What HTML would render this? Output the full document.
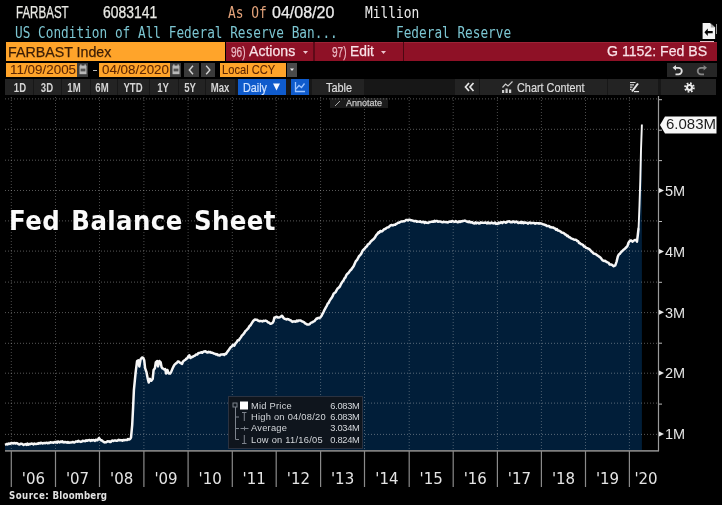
<!DOCTYPE html>
<html><head><meta charset="utf-8">
<style>
*{margin:0;padding:0;box-sizing:border-box}
html,body{width:722px;height:505px;background:#000;overflow:hidden}
body{position:relative;font-family:"Liberation Sans",Arial,sans-serif}
.a{position:absolute;white-space:nowrap}
.mono{font-family:"DejaVu Sans Mono",monospace;font-size:15px;line-height:15px;transform-origin:0 0;transform:scaleX(0.858)}
.nar{font-family:"Liberation Sans",sans-serif;transform-origin:0 0;line-height:1;-webkit-text-stroke:0.25px currentColor}
.chart{position:absolute;left:0;top:0}
.box{position:absolute}
.lg{position:absolute;left:251px;font-size:9.3px;letter-spacing:0.25px;line-height:11px;color:#d3d6da;white-space:nowrap}
.lgv{position:absolute;left:300px;width:59.5px;text-align:right;font-size:9.3px;letter-spacing:-0.3px;line-height:11px;color:#d3d6da}
.btn{position:absolute;top:80.5px;width:40px;height:14px;text-align:center;font-size:12px;line-height:14px;color:#d4d4d4;font-family:"Liberation Sans",sans-serif;font-weight:bold;transform:scaleX(0.8)}
.dt{top:63.2px;font-size:13px;color:#5e2704;transform:scaleX(1.03);-webkit-text-stroke:0.1px currentColor}
.bt{top:81px;font-size:13px;-webkit-text-stroke:0.2px currentColor;transform:scaleX(0.9)}
</style></head><body>
<!-- header row 0 -->
<div class="a nar" id="farbast" style="left:16px;top:4.7px;font-size:16px;color:#e9e9e4;transform:scaleX(0.722)">FARBAST</div>
<div class="a nar" id="num" style="left:103px;top:4.5px;font-size:16px;color:#e9e9e4;transform:scaleX(0.87)">6083141</div>
<div class="a mono" style="left:227.5px;top:5.8px;color:#e2a27a">As Of</div>
<div class="a nar" style="left:272px;top:4.5px;font-size:16px;color:#ececec">04/08/20</div>
<div class="a mono" style="left:365px;top:5.8px;color:#ececec">Million</div>
<!-- row 1 -->
<div class="a mono" style="left:15px;top:26px;color:#7cc6d2;transform:scaleX(0.851)">US Condition of All Federal Reserve Ban...</div>
<div class="a mono" style="left:396px;top:26px;color:#7cc6d2;transform:scaleX(0.85)">Federal Reserve</div>
<svg class="box" style="left:700px;top:22px" width="18" height="20" viewBox="0 0 18 20">
 <path d="M2.6,1.1 H10.3 L15.1,5.1 V16.9 H2.6 Z" fill="#f4f4f4"/>
 <path d="M10.8,1.8 V5.4 H14.6" fill="#a8a8a8"/>
 <path d="M10.3,1.1 L15.1,5.1" stroke="#222" stroke-width="0.8"/>
 <path d="M4.4,10.2 L7.8,6.4 V9.1 H12.7 V11.3 H7.8 V14 Z" fill="#050505"/>
 <line x1="16.5" y1="2" x2="16.5" y2="12" stroke="#9a9a9a"/>
</svg>
<div class="box" style="left:699.5px;top:40.5px;width:14px;height:1px;background:#e6c3cb"></div>
<!-- row 2 -->
<div class="box" style="left:6px;top:42px;width:219px;height:19px;background:#ffa42a"></div>
<div class="a nar" style="left:8px;top:43.5px;font-size:15px;color:#3b1d06;transform:scaleX(0.949)">FARBAST Index</div>
<div class="box" style="left:226px;top:41.5px;width:491px;height:19.6px;background:#8e1126"></div>
<div class="box" style="left:226px;top:42px;width:491px;height:1px;background:#9c2436"></div>
<div class="box" style="left:313px;top:41.5px;width:2px;height:19.6px;background:#5e0a18"></div>
<div class="box" style="left:402.5px;top:41.5px;width:1.6px;height:19.6px;background:#4c0812"></div>
<div class="a nar" style="left:231px;top:44.5px;font-size:14px;color:#eab8c3;transform:scaleX(0.72)">96)</div>
<div class="a nar" style="left:249px;top:42.8px;font-size:15px;color:#f8e2e7;transform:scaleX(0.939)">Actions</div>
<svg class="box" style="left:303px;top:51px" width="5" height="3"><path d="M0,0 H5 L2.5,3 Z" fill="#ecc6ce"/></svg>
<div class="a nar" style="left:332px;top:44.5px;font-size:14px;color:#eab8c3;transform:scaleX(0.72)">97)</div>
<div class="a nar" style="left:349.5px;top:42.8px;font-size:15px;color:#f8e2e7;transform:scaleX(0.923)">Edit</div>
<svg class="box" style="left:381px;top:51px" width="5" height="3"><path d="M0,0 H5 L2.5,3 Z" fill="#ecc6ce"/></svg>
<div class="a nar" id="gfed" style="left:607px;top:42.6px;font-size:15px;color:#f8e2e7;transform:scaleX(0.94)">G 1152: Fed BS</div>
<!-- row 3 -->
<div class="box" style="left:6px;top:63px;width:71px;height:14px;background:#ffa42a"></div>
<div class="a nar dt" style="left:9.5px">11/09/2005</div>
<svg class="box" style="left:77px;top:63px" width="11" height="14" viewBox="0 0 11 14"><rect width="11" height="14" fill="#3d3d3d"/><rect x="2.5" y="2.6" width="7" height="8.6" fill="#b9b9b9"/><rect x="3.6" y="5.6" width="4.8" height="2.8" fill="#555"/><rect x="3.2" y="1.4" width="1.3" height="2" fill="#b9b9b9"/><rect x="7.5" y="1.4" width="1.3" height="2" fill="#b9b9b9"/></svg>
<div class="box" style="left:93px;top:69.5px;width:3.5px;height:1.3px;background:#b5b5b5"></div>
<div class="box" style="left:99px;top:63px;width:71px;height:14px;background:#ffa42a"></div>
<div class="a nar dt" style="left:102px">04/08/2020</div>
<svg class="box" style="left:170px;top:63px" width="11" height="14" viewBox="0 0 11 14"><rect width="11" height="14" fill="#3d3d3d"/><rect x="2.5" y="2.6" width="7" height="8.6" fill="#b9b9b9"/><rect x="3.6" y="5.6" width="4.8" height="2.8" fill="#555"/><rect x="3.2" y="1.4" width="1.3" height="2" fill="#b9b9b9"/><rect x="7.5" y="1.4" width="1.3" height="2" fill="#b9b9b9"/></svg>
<svg class="box" style="left:184px;top:63px" width="15" height="14" viewBox="0 0 15 14"><rect width="15" height="14" fill="#3a3a3a"/><path d="M9,2.8 L5.3,7 L9,11.2" fill="none" stroke="#d4d4d4" stroke-width="1.4"/></svg>
<svg class="box" style="left:201px;top:63px" width="14" height="14" viewBox="0 0 14 14"><rect width="14" height="14" fill="#3a3a3a"/><path d="M5.2,2.8 L8.9,7 L5.2,11.2" fill="none" stroke="#d4d4d4" stroke-width="1.4"/></svg>
<div class="box" style="left:220px;top:63px;width:66px;height:14px;background:#ffa42a"></div>
<div class="a nar dt" style="left:221.5px;top:62.8px;transform:scaleX(0.856)">Local CCY</div>
<svg class="box" style="left:287px;top:63px" width="10" height="14" viewBox="0 0 10 14"><rect width="10" height="14" fill="#4a4a4a"/><path d="M3,5.6 H7 L5,8 Z" fill="#f0f0f0"/></svg>
<svg class="box" style="left:667px;top:63px" width="50" height="14" viewBox="0 0 50 14"><rect width="50" height="14" fill="#262626"/>
<path d="M8,4.8 H11.5 A3.3,3.3 0 0 1 11.5,11.4 H8.5" fill="none" stroke="#e2e2e2" stroke-width="1.8"/><path d="M5.6,4.8 L9,2 V7.6 Z" fill="#e2e2e2"/>
<path d="M37.5,4.8 H34 A3.3,3.3 0 0 0 34,11.4 H37" fill="none" stroke="#858585" stroke-width="1.8"/><path d="M40,4.8 L36.6,2 V7.6 Z" fill="#858585"/></svg>
<!-- row 4 buttons -->
<div class="box" style="left:5px;top:79px;width:711px;height:16px;background:#171717"></div>
<div class="box" style="left:5px;top:79px;width:28px;height:16px;background:#232323"></div>
<div class="box" style="left:34px;top:79px;width:27px;height:16px;background:#232323"></div>
<div class="box" style="left:62px;top:79px;width:28px;height:16px;background:#232323"></div>
<div class="box" style="left:91px;top:79px;width:26px;height:16px;background:#232323"></div>
<div class="box" style="left:118px;top:79px;width:31px;height:16px;background:#232323"></div>
<div class="box" style="left:150px;top:79px;width:28px;height:16px;background:#232323"></div>
<div class="box" style="left:179px;top:79px;width:26px;height:16px;background:#232323"></div>
<div class="box" style="left:206px;top:79px;width:29px;height:16px;background:#232323"></div>
<div class="box" style="left:238px;top:79px;width:48px;height:16px;background:#0f5bcc"></div>
<div class="box" style="left:291px;top:79px;width:18px;height:16px;background:#0f5bcc"></div>
<div class="box" style="left:312px;top:79px;width:52px;height:16px;background:#232323"></div>
<div class="box" style="left:455px;top:79px;width:24px;height:16px;background:#232323"></div>
<div class="box" style="left:480px;top:79px;width:127px;height:16px;background:#232323"></div>
<div class="box" style="left:608px;top:79px;width:50px;height:16px;background:#232323"></div>
<div class="box" style="left:661px;top:79px;width:55px;height:16px;background:#232323"></div>
<div class="btn" style="left:-0.5px">1D</div>
<div class="btn" style="left:26.5px">3D</div>
<div class="btn" style="left:54.0px">1M</div>
<div class="btn" style="left:81.5px">6M</div>
<div class="btn" style="left:113.0px">YTD</div>
<div class="btn" style="left:143.3px">1Y</div>
<div class="btn" style="left:170.2px">5Y</div>
<div class="btn" style="left:200.2px">Max</div>
<div class="a nar bt" style="left:243px;color:#cfe2ff;transform:scaleX(0.83)">Daily</div>
<svg class="box" style="left:273px;top:83px" width="7" height="8" viewBox="0 0 7 8"><path d="M0,0.5 H7 L3.5,7.5 Z" fill="#f4f8ff"/></svg>
<svg class="box" style="left:291px;top:79px" width="18" height="16" viewBox="0 0 18 16"><path d="M4.5,3 V12.5 H14" fill="none" stroke="#9cc4ff" stroke-width="1.3"/><path d="M5,10 L8,6.5 L10.5,8.5 L13.5,4.5" fill="none" stroke="#9cc4ff" stroke-width="1.3"/></svg>
<div class="a nar bt" style="left:326px;color:#dcdcdc;transform:scaleX(0.84)">Table</div>
<svg class="box" style="left:464px;top:82px" width="11" height="10" viewBox="0 0 11 10"><path d="M5,1 L1.5,5 L5,9 M9.5,1 L6,5 L9.5,9" fill="none" stroke="#e4e4e4" stroke-width="1.7"/></svg>
<svg class="box" style="left:501px;top:80px" width="13" height="14" viewBox="0 0 13 14"><path d="M1.5,7.5 L4.5,4 L7,6 L11.5,1.5" fill="none" stroke="#cfcfcf" stroke-width="1.2"/><rect x="1" y="10" width="2.2" height="3" fill="#cfcfcf"/><rect x="4.5" y="8.5" width="2.2" height="4.5" fill="#cfcfcf"/><rect x="8" y="9.5" width="2.2" height="3.5" fill="#cfcfcf"/></svg>
<div class="a nar bt" style="left:517px;color:#dcdcdc;transform:scaleX(0.835)">Chart Content</div>
<svg class="box" style="left:629px;top:81px" width="11" height="12" viewBox="0 0 11 12"><path d="M1,1.5 H6.5 M1,3.8 H5 M1,6.1 H3.5 M1,8.4 H2.5" stroke="#d8d8d8" stroke-width="1.2"/><path d="M3,10.5 L9,2.5" stroke="#e8e8e8" stroke-width="2"/><path d="M5,10.6 H10" stroke="#e8e8e8" stroke-width="1.2"/></svg>
<svg class="box" style="left:684px;top:81.5px" width="11" height="11" viewBox="0 0 11 11"><circle cx="5.5" cy="5.5" r="4.3" fill="none" stroke="#ececec" stroke-width="2" stroke-dasharray="1.7 1.68"/><circle cx="5.5" cy="5.5" r="3.5" fill="#ececec"/><circle cx="5.5" cy="5.5" r="1.4" fill="#232323"/></svg>
<!-- annotate -->
<div class="box" style="left:330px;top:98px;width:58px;height:10px;background:#1b1b1b"></div>
<div class="a nar" style="left:346px;top:98px;font-size:9.5px;color:#c8c8c8;transform:scaleX(0.95)">Annotate</div>
<svg class="box" style="left:334px;top:99px" width="8" height="8" viewBox="0 0 8 8"><path d="M1,7 L6,2" stroke="#aaa" stroke-width="1"/></svg>
<svg class="chart" width="722" height="505" viewBox="0 0 722 505">
<path d="M5.0,444.8 L6.0,444.4 L6.9,443.9 L7.8,444.4 L8.8,443.5 L9.8,443.9 L10.7,443.5 L11.6,442.9 L12.6,443.3 L13.5,443.4 L14.4,442.9 L15.4,443.5 L16.3,443.1 L17.2,443.3 L18.1,443.9 L19.1,444.5 L20.0,444.2 L20.9,443.7 L21.8,443.8 L22.7,444.4 L23.6,444.9 L24.5,444.4 L25.5,444.1 L26.4,444.9 L27.3,443.6 L28.2,444.8 L29.1,444.0 L30.0,444.3 L30.9,443.7 L31.8,443.6 L32.7,443.8 L33.6,444.5 L34.5,443.5 L35.5,444.0 L36.4,444.0 L37.3,443.5 L38.2,443.7 L39.1,443.0 L40.0,443.5 L40.9,442.8 L41.7,442.9 L42.5,443.5 L43.4,443.1 L44.2,442.9 L45.1,443.2 L46.0,442.9 L46.8,442.7 L47.6,443.3 L48.5,442.8 L49.5,443.0 L50.5,442.2 L51.5,442.6 L52.4,442.4 L53.4,442.7 L54.4,442.1 L55.3,442.4 L56.2,441.8 L57.0,442.7 L57.9,441.5 L58.8,441.9 L59.7,442.4 L60.6,441.6 L61.5,442.0 L62.4,441.4 L63.2,442.3 L64.1,442.4 L65.0,442.0 L66.0,442.2 L67.0,442.7 L67.9,442.0 L68.9,442.7 L69.9,442.5 L70.9,442.5 L71.8,442.3 L72.8,442.0 L73.7,442.4 L74.7,442.4 L75.6,441.6 L76.6,441.5 L77.5,441.7 L78.3,440.8 L79.2,441.6 L80.1,441.5 L80.9,441.9 L81.8,441.6 L82.7,440.8 L83.5,440.9 L84.4,441.0 L85.3,441.2 L86.1,440.2 L87.0,440.8 L87.9,440.3 L88.7,440.2 L89.6,440.0 L90.5,441.0 L91.3,440.0 L92.2,440.5 L93.1,440.1 L94.0,440.2 L94.8,440.9 L95.7,439.7 L96.6,440.2 L97.5,440.2 L99.0,438.1 L100.5,440.0 L101.9,440.5 L102.8,441.3 L103.8,442.0 L104.7,442.4 L105.6,442.3 L106.4,442.2 L107.3,441.3 L108.2,441.4 L109.1,441.3 L110.0,441.9 L110.9,441.9 L111.7,440.7 L112.6,440.6 L113.5,441.0 L114.4,440.5 L115.3,440.4 L116.2,440.7 L117.1,440.8 L118.0,440.2 L118.8,439.8 L119.7,440.3 L120.6,440.1 L121.5,440.3 L122.4,440.7 L123.3,440.0 L124.2,440.2 L125.2,439.9 L126.2,440.0 L127.1,440.0 L128.1,439.0 L129.0,439.6 L130.0,439.2 L131.0,437.6 L132.2,425.0 L133.1,407.5 L133.9,390.0 L134.8,380.9 L135.7,371.8 L137.1,361.0 L138.4,360.2 L139.3,366.4 L140.6,359.3 L142.0,357.5 L143.3,358.0 L144.2,360.2 L145.1,368.2 L146.4,371.8 L147.8,378.9 L148.7,382.5 L150.0,378.9 L151.3,380.7 L152.7,378.9 L153.6,370.0 L154.9,368.2 L155.8,362.4 L157.1,361.0 L158.0,366.4 L159.4,361.0 L160.7,362.4 L161.6,367.3 L162.5,368.4 L163.4,368.7 L164.3,369.4 L165.2,369.1 L166.1,373.6 L167.4,370.0 L168.8,373.6 L170.1,373.6 L171.2,371.8 L172.3,369.1 L173.4,366.7 L174.6,364.6 L175.7,363.6 L176.8,362.9 L177.7,361.6 L178.6,361.5 L179.5,362.4 L180.4,362.9 L182.1,363.9 L182.9,361.7 L183.8,360.8 L185.5,359.7 L186.4,358.4 L187.3,358.4 L188.3,356.4 L189.3,355.2 L190.4,358.0 L191.4,357.0 L192.5,357.0 L193.7,356.1 L194.9,355.6 L196.1,354.4 L197.3,354.5 L198.2,353.2 L199.2,352.9 L200.1,352.8 L201.1,352.2 L202.2,352.8 L203.2,351.9 L204.2,351.4 L205.4,351.2 L206.7,352.3 L207.6,352.6 L208.4,351.8 L209.3,352.3 L210.3,352.0 L211.2,352.8 L212.1,352.7 L213.0,353.1 L213.9,353.5 L214.9,353.8 L216.0,354.5 L216.9,354.1 L217.9,355.3 L218.8,354.9 L219.7,355.5 L220.7,354.6 L221.6,354.5 L222.5,354.6 L223.4,354.2 L224.3,354.9 L225.2,353.8 L226.1,353.9 L227.3,351.9 L228.5,350.4 L229.6,348.8 L230.7,347.2 L231.7,346.7 L232.8,344.9 L234.3,345.7 L235.5,343.4 L236.7,342.1 L237.8,340.2 L238.8,340.3 L239.9,338.5 L241.0,337.2 L242.0,335.4 L243.1,334.6 L244.1,333.3 L245.2,331.3 L246.2,330.6 L247.3,329.2 L248.3,328.3 L249.4,326.2 L250.5,325.3 L251.5,323.6 L252.6,321.9 L253.8,320.4 L254.9,319.5 L256.0,319.7 L257.0,319.8 L258.1,320.7 L259.2,321.2 L260.2,321.0 L261.3,321.1 L262.4,321.4 L263.4,320.7 L264.5,320.9 L265.6,320.6 L266.8,321.1 L268.0,322.3 L269.2,322.7 L270.4,323.8 L271.6,323.5 L272.6,322.8 L273.6,321.1 L274.4,317.5 L275.4,317.5 L276.3,316.7 L278.0,317.5 L278.8,317.5 L279.8,317.3 L280.9,316.6 L281.9,315.7 L282.8,316.6 L283.6,318.2 L284.5,318.7 L285.5,318.9 L286.4,319.5 L287.3,319.0 L288.1,319.2 L289.0,319.7 L289.9,320.2 L290.8,320.2 L291.6,321.2 L292.4,321.9 L293.3,321.6 L294.2,321.3 L295.1,321.7 L295.9,321.5 L296.8,320.6 L297.7,321.2 L298.6,320.4 L299.5,320.6 L300.4,320.5 L301.4,320.9 L302.3,321.6 L303.2,321.8 L304.2,322.4 L305.1,323.4 L306.2,323.9 L307.4,324.6 L308.5,324.4 L309.6,324.2 L310.6,323.0 L311.5,322.5 L312.5,322.3 L313.4,321.6 L314.4,321.2 L315.5,319.9 L316.4,318.6 L317.3,318.7 L318.2,317.8 L319.2,318.2 L320.3,317.5 L321.4,316.1 L322.4,314.0 L323.4,312.3 L324.5,309.8 L326.0,307.1 L326.9,305.6 L327.8,303.6 L328.6,303.0 L329.5,300.9 L330.4,299.6 L331.5,298.1 L332.5,296.4 L333.6,293.8 L334.6,292.9 L335.6,292.3 L336.5,290.4 L337.4,288.8 L338.9,287.6 L339.9,286.4 L341.0,284.0 L342.5,281.6 L343.5,280.5 L344.4,278.4 L345.4,277.5 L346.3,275.2 L347.2,273.9 L348.7,272.7 L349.9,270.8 L351.1,269.8 L352.3,268.0 L353.6,266.3 L354.8,263.5 L355.9,261.1 L357.1,259.8 L358.3,257.6 L359.2,255.9 L360.1,255.2 L361.0,254.2 L361.9,252.2 L362.8,250.4 L364.3,249.0 L366.0,246.9 L366.9,246.4 L367.8,244.5 L368.7,244.1 L369.6,243.3 L370.5,241.9 L371.4,240.9 L372.4,240.1 L373.5,239.2 L375.0,237.4 L376.2,235.2 L377.4,234.0 L378.4,232.3 L379.3,232.7 L380.3,231.0 L381.2,231.4 L382.1,231.3 L383.3,230.1 L384.5,228.9 L385.5,229.0 L386.5,227.8 L387.5,227.4 L388.5,227.3 L389.4,226.5 L390.4,225.4 L391.6,225.0 L392.8,225.4 L394.0,224.8 L395.2,224.8 L396.1,223.9 L397.0,223.6 L398.0,222.7 L399.0,222.7 L400.0,222.1 L401.1,221.5 L402.3,221.5 L403.5,221.2 L404.7,221.2 L405.9,220.1 L407.1,220.0 L408.0,220.4 L408.9,219.7 L410.0,219.8 L411.2,220.3 L412.1,220.4 L413.1,220.7 L414.1,221.3 L415.0,220.9 L415.9,221.0 L416.8,221.8 L417.6,221.4 L418.5,221.6 L419.4,221.8 L420.2,221.3 L421.1,222.0 L422.0,222.3 L422.9,221.9 L423.8,221.8 L424.6,223.0 L425.5,222.2 L426.4,222.7 L427.3,222.8 L428.2,222.9 L429.1,222.4 L430.0,221.9 L430.9,221.9 L431.8,221.7 L432.7,221.4 L433.6,221.8 L434.5,220.8 L435.4,221.5 L436.2,221.0 L437.1,221.1 L438.0,221.8 L438.9,221.4 L439.8,221.4 L440.7,221.6 L441.6,222.0 L442.5,222.3 L443.4,221.8 L444.3,222.1 L445.2,222.1 L446.1,222.2 L447.0,222.3 L447.9,222.4 L448.8,221.8 L449.6,221.7 L450.5,221.4 L451.4,221.8 L452.3,221.0 L453.2,221.4 L454.0,221.7 L454.9,221.9 L455.7,221.1 L456.6,221.6 L457.4,222.2 L458.3,222.2 L459.1,221.3 L460.0,221.9 L460.9,221.2 L461.9,221.5 L462.9,220.9 L463.8,220.9 L464.8,220.6 L465.7,221.0 L466.6,221.5 L467.5,221.8 L468.4,222.2 L469.2,221.4 L470.1,222.4 L471.0,222.6 L471.9,222.1 L472.8,222.8 L473.7,223.3 L474.6,223.5 L475.5,222.4 L476.4,223.4 L477.2,222.7 L478.1,222.8 L479.0,223.5 L479.9,223.3 L480.8,222.3 L481.7,222.8 L482.6,222.7 L483.5,222.9 L484.4,222.7 L485.3,222.5 L486.2,222.7 L487.1,223.4 L488.0,222.4 L488.9,223.2 L489.8,223.1 L490.7,223.2 L491.6,222.5 L492.5,223.0 L493.4,223.4 L494.3,223.2 L495.1,222.6 L496.0,223.9 L496.9,223.6 L497.8,223.9 L498.7,222.6 L499.6,223.2 L500.5,222.7 L501.4,222.2 L502.3,223.1 L503.2,222.2 L504.1,221.9 L504.9,222.1 L505.8,222.7 L506.7,222.4 L507.6,221.4 L508.5,221.6 L509.4,221.2 L510.3,222.3 L511.2,221.9 L512.1,222.2 L513.0,221.4 L513.8,221.4 L514.7,222.4 L515.6,222.1 L516.5,221.6 L517.4,222.3 L518.3,223.0 L519.2,222.6 L520.1,222.9 L521.0,221.9 L521.8,223.0 L522.7,222.0 L523.6,223.2 L524.5,222.6 L525.4,222.5 L526.3,222.8 L527.2,223.0 L528.1,223.6 L529.0,222.7 L529.9,222.6 L530.8,223.3 L531.6,223.0 L532.5,222.9 L533.4,223.0 L534.3,223.0 L535.2,223.7 L536.1,223.2 L537.1,223.3 L538.0,223.2 L539.0,223.7 L539.9,223.3 L541.0,223.4 L542.2,224.0 L543.3,224.4 L544.2,224.4 L545.0,225.0 L545.9,225.0 L546.8,226.1 L547.8,226.0 L548.9,225.9 L550.0,227.2 L551.0,227.1 L552.0,227.5 L553.0,227.4 L554.1,228.1 L555.1,228.5 L556.0,229.6 L556.9,229.0 L557.7,230.5 L558.6,230.6 L559.6,231.0 L560.7,231.6 L561.7,232.6 L562.7,232.7 L563.6,233.1 L564.5,233.8 L565.3,234.5 L566.2,234.8 L567.1,236.1 L568.0,235.8 L568.8,237.1 L569.7,237.2 L570.7,238.1 L571.8,238.6 L572.8,238.9 L573.8,239.6 L574.7,239.7 L575.5,239.7 L576.4,240.1 L577.3,241.0 L578.2,241.2 L579.0,242.9 L579.9,243.0 L580.8,244.1 L581.8,244.3 L582.9,244.8 L584.0,246.5 L585.0,246.6 L586.1,247.8 L587.2,248.2 L588.3,248.7 L589.3,249.2 L590.2,250.0 L591.2,251.2 L592.2,252.0 L593.3,253.3 L594.4,253.8 L595.5,253.9 L596.6,254.9 L597.9,255.7 L599.1,256.6 L600.4,257.5 L601.6,259.1 L602.7,260.3 L603.9,260.9 L605.0,260.8 L606.2,261.7 L607.4,262.4 L608.5,262.7 L609.7,264.5 L610.8,264.5 L611.8,264.8 L612.7,265.4 L613.7,266.2 L615.3,265.3 L616.6,261.6 L617.8,256.6 L618.8,254.5 L619.9,253.7 L621.1,252.1 L622.4,250.8 L623.6,249.7 L624.9,248.7 L626.1,247.5 L627.4,246.2 L628.6,242.5 L630.3,240.4 L631.3,240.6 L632.4,241.6 L633.6,240.8 L634.9,240.0 L636.0,240.1 L637.0,241.6 L637.8,235.0 L638.6,228.0 L639.5,205.0 L640.3,180.0 L641.0,150.0 L641.9,124.5 L641.9,450 L5,450 Z" fill="#011e39"/>
<g stroke="rgba(210,210,210,0.42)" stroke-width="1" stroke-dasharray="1 2"><line x1="5" x2="658" y1="98.9" y2="98.9"/><line x1="5" x2="658" y1="129.3" y2="129.3"/><line x1="5" x2="658" y1="160.2" y2="160.2"/><line x1="5" x2="658" y1="190.5" y2="190.5"/><line x1="5" x2="658" y1="220.9" y2="220.9"/><line x1="5" x2="658" y1="251.1" y2="251.1"/><line x1="5" x2="658" y1="282.1" y2="282.1"/><line x1="5" x2="658" y1="312.6" y2="312.6"/><line x1="5" x2="658" y1="343.3" y2="343.3"/><line x1="5" x2="658" y1="373.2" y2="373.2"/><line x1="5" x2="658" y1="403.1" y2="403.1"/><line x1="5" x2="658" y1="434.4" y2="434.4"/></g>
<g stroke="rgba(210,210,210,0.36)" stroke-width="1" stroke-dasharray="1 2"><line x1="11.3" x2="11.3" y1="97" y2="450"/><line x1="55.5" x2="55.5" y1="97" y2="450"/><line x1="99.5" x2="99.5" y1="97" y2="450"/><line x1="143.9" x2="143.9" y1="97" y2="450"/><line x1="188.1" x2="188.1" y1="97" y2="450"/><line x1="232.3" x2="232.3" y1="97" y2="450"/><line x1="276.2" x2="276.2" y1="97" y2="450"/><line x1="320.6" x2="320.6" y1="97" y2="450"/><line x1="364.5" x2="364.5" y1="97" y2="450"/><line x1="409.2" x2="409.2" y1="97" y2="450"/><line x1="453.2" x2="453.2" y1="97" y2="450"/><line x1="497.4" x2="497.4" y1="97" y2="450"/><line x1="541.4" x2="541.4" y1="97" y2="450"/><line x1="585.5" x2="585.5" y1="97" y2="450"/><line x1="629.4" x2="629.4" y1="97" y2="450"/></g>
<path d="M5.0,444.8 L6.0,444.4 L6.9,443.9 L7.8,444.4 L8.8,443.5 L9.8,443.9 L10.7,443.5 L11.6,442.9 L12.6,443.3 L13.5,443.4 L14.4,442.9 L15.4,443.5 L16.3,443.1 L17.2,443.3 L18.1,443.9 L19.1,444.5 L20.0,444.2 L20.9,443.7 L21.8,443.8 L22.7,444.4 L23.6,444.9 L24.5,444.4 L25.5,444.1 L26.4,444.9 L27.3,443.6 L28.2,444.8 L29.1,444.0 L30.0,444.3 L30.9,443.7 L31.8,443.6 L32.7,443.8 L33.6,444.5 L34.5,443.5 L35.5,444.0 L36.4,444.0 L37.3,443.5 L38.2,443.7 L39.1,443.0 L40.0,443.5 L40.9,442.8 L41.7,442.9 L42.5,443.5 L43.4,443.1 L44.2,442.9 L45.1,443.2 L46.0,442.9 L46.8,442.7 L47.6,443.3 L48.5,442.8 L49.5,443.0 L50.5,442.2 L51.5,442.6 L52.4,442.4 L53.4,442.7 L54.4,442.1 L55.3,442.4 L56.2,441.8 L57.0,442.7 L57.9,441.5 L58.8,441.9 L59.7,442.4 L60.6,441.6 L61.5,442.0 L62.4,441.4 L63.2,442.3 L64.1,442.4 L65.0,442.0 L66.0,442.2 L67.0,442.7 L67.9,442.0 L68.9,442.7 L69.9,442.5 L70.9,442.5 L71.8,442.3 L72.8,442.0 L73.7,442.4 L74.7,442.4 L75.6,441.6 L76.6,441.5 L77.5,441.7 L78.3,440.8 L79.2,441.6 L80.1,441.5 L80.9,441.9 L81.8,441.6 L82.7,440.8 L83.5,440.9 L84.4,441.0 L85.3,441.2 L86.1,440.2 L87.0,440.8 L87.9,440.3 L88.7,440.2 L89.6,440.0 L90.5,441.0 L91.3,440.0 L92.2,440.5 L93.1,440.1 L94.0,440.2 L94.8,440.9 L95.7,439.7 L96.6,440.2 L97.5,440.2 L99.0,438.1 L100.5,440.0 L101.9,440.5 L102.8,441.3 L103.8,442.0 L104.7,442.4 L105.6,442.3 L106.4,442.2 L107.3,441.3 L108.2,441.4 L109.1,441.3 L110.0,441.9 L110.9,441.9 L111.7,440.7 L112.6,440.6 L113.5,441.0 L114.4,440.5 L115.3,440.4 L116.2,440.7 L117.1,440.8 L118.0,440.2 L118.8,439.8 L119.7,440.3 L120.6,440.1 L121.5,440.3 L122.4,440.7 L123.3,440.0 L124.2,440.2 L125.2,439.9 L126.2,440.0 L127.1,440.0 L128.1,439.0 L129.0,439.6 L130.0,439.2 L131.0,437.6 L132.2,425.0 L133.1,407.5 L133.9,390.0 L134.8,380.9 L135.7,371.8 L137.1,361.0 L138.4,360.2 L139.3,366.4 L140.6,359.3 L142.0,357.5 L143.3,358.0 L144.2,360.2 L145.1,368.2 L146.4,371.8 L147.8,378.9 L148.7,382.5 L150.0,378.9 L151.3,380.7 L152.7,378.9 L153.6,370.0 L154.9,368.2 L155.8,362.4 L157.1,361.0 L158.0,366.4 L159.4,361.0 L160.7,362.4 L161.6,367.3 L162.5,368.4 L163.4,368.7 L164.3,369.4 L165.2,369.1 L166.1,373.6 L167.4,370.0 L168.8,373.6 L170.1,373.6 L171.2,371.8 L172.3,369.1 L173.4,366.7 L174.6,364.6 L175.7,363.6 L176.8,362.9 L177.7,361.6 L178.6,361.5 L179.5,362.4 L180.4,362.9 L182.1,363.9 L182.9,361.7 L183.8,360.8 L185.5,359.7 L186.4,358.4 L187.3,358.4 L188.3,356.4 L189.3,355.2 L190.4,358.0 L191.4,357.0 L192.5,357.0 L193.7,356.1 L194.9,355.6 L196.1,354.4 L197.3,354.5 L198.2,353.2 L199.2,352.9 L200.1,352.8 L201.1,352.2 L202.2,352.8 L203.2,351.9 L204.2,351.4 L205.4,351.2 L206.7,352.3 L207.6,352.6 L208.4,351.8 L209.3,352.3 L210.3,352.0 L211.2,352.8 L212.1,352.7 L213.0,353.1 L213.9,353.5 L214.9,353.8 L216.0,354.5 L216.9,354.1 L217.9,355.3 L218.8,354.9 L219.7,355.5 L220.7,354.6 L221.6,354.5 L222.5,354.6 L223.4,354.2 L224.3,354.9 L225.2,353.8 L226.1,353.9 L227.3,351.9 L228.5,350.4 L229.6,348.8 L230.7,347.2 L231.7,346.7 L232.8,344.9 L234.3,345.7 L235.5,343.4 L236.7,342.1 L237.8,340.2 L238.8,340.3 L239.9,338.5 L241.0,337.2 L242.0,335.4 L243.1,334.6 L244.1,333.3 L245.2,331.3 L246.2,330.6 L247.3,329.2 L248.3,328.3 L249.4,326.2 L250.5,325.3 L251.5,323.6 L252.6,321.9 L253.8,320.4 L254.9,319.5 L256.0,319.7 L257.0,319.8 L258.1,320.7 L259.2,321.2 L260.2,321.0 L261.3,321.1 L262.4,321.4 L263.4,320.7 L264.5,320.9 L265.6,320.6 L266.8,321.1 L268.0,322.3 L269.2,322.7 L270.4,323.8 L271.6,323.5 L272.6,322.8 L273.6,321.1 L274.4,317.5 L275.4,317.5 L276.3,316.7 L278.0,317.5 L278.8,317.5 L279.8,317.3 L280.9,316.6 L281.9,315.7 L282.8,316.6 L283.6,318.2 L284.5,318.7 L285.5,318.9 L286.4,319.5 L287.3,319.0 L288.1,319.2 L289.0,319.7 L289.9,320.2 L290.8,320.2 L291.6,321.2 L292.4,321.9 L293.3,321.6 L294.2,321.3 L295.1,321.7 L295.9,321.5 L296.8,320.6 L297.7,321.2 L298.6,320.4 L299.5,320.6 L300.4,320.5 L301.4,320.9 L302.3,321.6 L303.2,321.8 L304.2,322.4 L305.1,323.4 L306.2,323.9 L307.4,324.6 L308.5,324.4 L309.6,324.2 L310.6,323.0 L311.5,322.5 L312.5,322.3 L313.4,321.6 L314.4,321.2 L315.5,319.9 L316.4,318.6 L317.3,318.7 L318.2,317.8 L319.2,318.2 L320.3,317.5 L321.4,316.1 L322.4,314.0 L323.4,312.3 L324.5,309.8 L326.0,307.1 L326.9,305.6 L327.8,303.6 L328.6,303.0 L329.5,300.9 L330.4,299.6 L331.5,298.1 L332.5,296.4 L333.6,293.8 L334.6,292.9 L335.6,292.3 L336.5,290.4 L337.4,288.8 L338.9,287.6 L339.9,286.4 L341.0,284.0 L342.5,281.6 L343.5,280.5 L344.4,278.4 L345.4,277.5 L346.3,275.2 L347.2,273.9 L348.7,272.7 L349.9,270.8 L351.1,269.8 L352.3,268.0 L353.6,266.3 L354.8,263.5 L355.9,261.1 L357.1,259.8 L358.3,257.6 L359.2,255.9 L360.1,255.2 L361.0,254.2 L361.9,252.2 L362.8,250.4 L364.3,249.0 L366.0,246.9 L366.9,246.4 L367.8,244.5 L368.7,244.1 L369.6,243.3 L370.5,241.9 L371.4,240.9 L372.4,240.1 L373.5,239.2 L375.0,237.4 L376.2,235.2 L377.4,234.0 L378.4,232.3 L379.3,232.7 L380.3,231.0 L381.2,231.4 L382.1,231.3 L383.3,230.1 L384.5,228.9 L385.5,229.0 L386.5,227.8 L387.5,227.4 L388.5,227.3 L389.4,226.5 L390.4,225.4 L391.6,225.0 L392.8,225.4 L394.0,224.8 L395.2,224.8 L396.1,223.9 L397.0,223.6 L398.0,222.7 L399.0,222.7 L400.0,222.1 L401.1,221.5 L402.3,221.5 L403.5,221.2 L404.7,221.2 L405.9,220.1 L407.1,220.0 L408.0,220.4 L408.9,219.7 L410.0,219.8 L411.2,220.3 L412.1,220.4 L413.1,220.7 L414.1,221.3 L415.0,220.9 L415.9,221.0 L416.8,221.8 L417.6,221.4 L418.5,221.6 L419.4,221.8 L420.2,221.3 L421.1,222.0 L422.0,222.3 L422.9,221.9 L423.8,221.8 L424.6,223.0 L425.5,222.2 L426.4,222.7 L427.3,222.8 L428.2,222.9 L429.1,222.4 L430.0,221.9 L430.9,221.9 L431.8,221.7 L432.7,221.4 L433.6,221.8 L434.5,220.8 L435.4,221.5 L436.2,221.0 L437.1,221.1 L438.0,221.8 L438.9,221.4 L439.8,221.4 L440.7,221.6 L441.6,222.0 L442.5,222.3 L443.4,221.8 L444.3,222.1 L445.2,222.1 L446.1,222.2 L447.0,222.3 L447.9,222.4 L448.8,221.8 L449.6,221.7 L450.5,221.4 L451.4,221.8 L452.3,221.0 L453.2,221.4 L454.0,221.7 L454.9,221.9 L455.7,221.1 L456.6,221.6 L457.4,222.2 L458.3,222.2 L459.1,221.3 L460.0,221.9 L460.9,221.2 L461.9,221.5 L462.9,220.9 L463.8,220.9 L464.8,220.6 L465.7,221.0 L466.6,221.5 L467.5,221.8 L468.4,222.2 L469.2,221.4 L470.1,222.4 L471.0,222.6 L471.9,222.1 L472.8,222.8 L473.7,223.3 L474.6,223.5 L475.5,222.4 L476.4,223.4 L477.2,222.7 L478.1,222.8 L479.0,223.5 L479.9,223.3 L480.8,222.3 L481.7,222.8 L482.6,222.7 L483.5,222.9 L484.4,222.7 L485.3,222.5 L486.2,222.7 L487.1,223.4 L488.0,222.4 L488.9,223.2 L489.8,223.1 L490.7,223.2 L491.6,222.5 L492.5,223.0 L493.4,223.4 L494.3,223.2 L495.1,222.6 L496.0,223.9 L496.9,223.6 L497.8,223.9 L498.7,222.6 L499.6,223.2 L500.5,222.7 L501.4,222.2 L502.3,223.1 L503.2,222.2 L504.1,221.9 L504.9,222.1 L505.8,222.7 L506.7,222.4 L507.6,221.4 L508.5,221.6 L509.4,221.2 L510.3,222.3 L511.2,221.9 L512.1,222.2 L513.0,221.4 L513.8,221.4 L514.7,222.4 L515.6,222.1 L516.5,221.6 L517.4,222.3 L518.3,223.0 L519.2,222.6 L520.1,222.9 L521.0,221.9 L521.8,223.0 L522.7,222.0 L523.6,223.2 L524.5,222.6 L525.4,222.5 L526.3,222.8 L527.2,223.0 L528.1,223.6 L529.0,222.7 L529.9,222.6 L530.8,223.3 L531.6,223.0 L532.5,222.9 L533.4,223.0 L534.3,223.0 L535.2,223.7 L536.1,223.2 L537.1,223.3 L538.0,223.2 L539.0,223.7 L539.9,223.3 L541.0,223.4 L542.2,224.0 L543.3,224.4 L544.2,224.4 L545.0,225.0 L545.9,225.0 L546.8,226.1 L547.8,226.0 L548.9,225.9 L550.0,227.2 L551.0,227.1 L552.0,227.5 L553.0,227.4 L554.1,228.1 L555.1,228.5 L556.0,229.6 L556.9,229.0 L557.7,230.5 L558.6,230.6 L559.6,231.0 L560.7,231.6 L561.7,232.6 L562.7,232.7 L563.6,233.1 L564.5,233.8 L565.3,234.5 L566.2,234.8 L567.1,236.1 L568.0,235.8 L568.8,237.1 L569.7,237.2 L570.7,238.1 L571.8,238.6 L572.8,238.9 L573.8,239.6 L574.7,239.7 L575.5,239.7 L576.4,240.1 L577.3,241.0 L578.2,241.2 L579.0,242.9 L579.9,243.0 L580.8,244.1 L581.8,244.3 L582.9,244.8 L584.0,246.5 L585.0,246.6 L586.1,247.8 L587.2,248.2 L588.3,248.7 L589.3,249.2 L590.2,250.0 L591.2,251.2 L592.2,252.0 L593.3,253.3 L594.4,253.8 L595.5,253.9 L596.6,254.9 L597.9,255.7 L599.1,256.6 L600.4,257.5 L601.6,259.1 L602.7,260.3 L603.9,260.9 L605.0,260.8 L606.2,261.7 L607.4,262.4 L608.5,262.7 L609.7,264.5 L610.8,264.5 L611.8,264.8 L612.7,265.4 L613.7,266.2 L615.3,265.3 L616.6,261.6 L617.8,256.6 L618.8,254.5 L619.9,253.7 L621.1,252.1 L622.4,250.8 L623.6,249.7 L624.9,248.7 L626.1,247.5 L627.4,246.2 L628.6,242.5 L630.3,240.4 L631.3,240.6 L632.4,241.6 L633.6,240.8 L634.9,240.0 L636.0,240.1 L637.0,241.6 L637.8,235.0 L638.6,228.0" fill="none" stroke="#f6f6f6" stroke-width="2.5" stroke-linejoin="round"/>
<path d="M638.6,228.0 L639.5,205.0 L640.3,180.0 L641.0,150.0 L641.9,124.5" fill="none" stroke="#f6f6f6" stroke-width="1.9" stroke-linejoin="round"/>
<line x1="5" x2="659" y1="450.9" y2="450.9" stroke="#7e7e7e" stroke-width="1.7"/>
<line x1="658.5" x2="658.5" y1="96" y2="451" stroke="#9a9a9a" stroke-width="1.2"/>
<g stroke="#8a8a8a" stroke-width="1.2"><line x1="11.3" x2="11.3" y1="451" y2="487"/><line x1="55.5" x2="55.5" y1="451" y2="487"/><line x1="99.5" x2="99.5" y1="451" y2="487"/><line x1="143.9" x2="143.9" y1="451" y2="487"/><line x1="188.1" x2="188.1" y1="451" y2="487"/><line x1="232.3" x2="232.3" y1="451" y2="487"/><line x1="276.2" x2="276.2" y1="451" y2="487"/><line x1="320.6" x2="320.6" y1="451" y2="487"/><line x1="364.5" x2="364.5" y1="451" y2="487"/><line x1="409.2" x2="409.2" y1="451" y2="487"/><line x1="453.2" x2="453.2" y1="451" y2="487"/><line x1="497.4" x2="497.4" y1="451" y2="487"/><line x1="541.4" x2="541.4" y1="451" y2="487"/><line x1="585.5" x2="585.5" y1="451" y2="487"/><line x1="629.4" x2="629.4" y1="451" y2="487"/></g>
<g fill="#e4e4e4" font-family="DejaVu Sans, sans-serif" font-size="15" text-anchor="middle"><text x="33.4" y="483.5">'06</text><text x="77.5" y="483.5">'07</text><text x="121.7" y="483.5">'08</text><text x="166.0" y="483.5">'09</text><text x="210.2" y="483.5">'10</text><text x="254.2" y="483.5">'11</text><text x="298.4" y="483.5">'12</text><text x="342.6" y="483.5">'13</text><text x="386.9" y="483.5">'14</text><text x="431.2" y="483.5">'15</text><text x="475.3" y="483.5">'16</text><text x="519.4" y="483.5">'17</text><text x="563.5" y="483.5">'18</text><text x="607.5" y="483.5">'19</text><text x="646" y="483.5">'20</text></g>
<g fill="#e4e4e4" font-family="Liberation Sans, sans-serif" font-size="14.5"><path d="M659,431.5 L664,434.0 L659,436.5 Z" fill="#e6e6e6"/><text x="665" y="439.2">1M</text><path d="M659,370.6 L664,373.1 L659,375.6 Z" fill="#e6e6e6"/><text x="665" y="378.3">2M</text><path d="M659,309.8 L664,312.3 L659,314.8 Z" fill="#e6e6e6"/><text x="665" y="317.5">3M</text><path d="M659,248.9 L664,251.4 L659,253.9 Z" fill="#e6e6e6"/><text x="665" y="256.6">4M</text><path d="M659,188.0 L664,190.5 L659,193.0 Z" fill="#e6e6e6"/><text x="665" y="195.7">5M</text><line x1="659" x2="662" y1="404.1" y2="404.1" stroke="#bbb"/><line x1="659" x2="662" y1="343.2" y2="343.2" stroke="#bbb"/><line x1="659" x2="662" y1="282.3" y2="282.3" stroke="#bbb"/><line x1="659" x2="662" y1="221.5" y2="221.5" stroke="#bbb"/><line x1="659" x2="662" y1="160.6" y2="160.6" stroke="#bbb"/><line x1="659" x2="662" y1="130.2" y2="130.2" stroke="#bbb"/><line x1="659" x2="662" y1="99.7" y2="99.7" stroke="#bbb"/></g>
</svg>
<div class="a" id="title" style="left:8.6px;top:206.3px;font-family:'DejaVu Sans',sans-serif;font-weight:bold;font-size:26px;letter-spacing:0.45px;word-spacing:2.5px;line-height:30px;color:#fafafa;transform-origin:0 0;transform:scaleX(0.94)">Fed Balance Sheet</div>
<div class="a" id="src" style="left:9px;top:490px;font-family:'DejaVu Sans',sans-serif;font-stretch:condensed;font-weight:bold;font-size:9.6px;letter-spacing:0.45px;line-height:12px;color:#e2e2e2;transform-origin:0 0;transform:scaleX(1)">Source: <span style="letter-spacing:0.2px">Bloomberg</span></div>
<svg class="box" style="left:659px;top:115px" width="60" height="20" viewBox="0 0 60 20"><path d="M1,10 L6,1.5 H57.5 V18.5 H6 Z" fill="#f7f7f7"/></svg>
<div class="a" id="lastv" style="left:665.5px;top:116px;font-family:'Liberation Sans',sans-serif;font-size:14px;line-height:16px;color:#1c1c1c;transform-origin:0 0;transform:scaleX(1.07)">6.083M</div>
<!-- legend -->
<div class="box" style="left:228px;top:396px;width:135px;height:53px;background:#0f151d;border:1px solid #2b3240"></div>
<svg class="box" style="left:228px;top:396px" width="135" height="53" viewBox="0 0 135 53">
<g stroke="#7d838c" stroke-width="1" fill="none">
<rect x="5" y="7" width="4" height="4"/>
<path d="M7.5,11 V43.5 M7.5,21 H11 M7.5,32.5 H11 M7.5,43.5 H11"/>
<path d="M14,16.5 H18.5 M16.3,16.5 V25"/>
<path d="M12.5,32.5 H20.5 M16.5,30.5 V34.5"/>
<path d="M16.3,39 V47.5 M14,47.5 H18.5"/>
</g>
<rect x="12" y="5.5" width="8" height="8" fill="#fff"/>
</svg>
<div class="lg" style="top:400.5px">Mid Price</div>
<div class="lg" style="top:412px">High on 04/08/20</div>
<div class="lg" style="top:423.3px">Average</div>
<div class="lg" style="top:434.6px">Low on 11/16/05</div>
<div class="lgv" style="top:400.5px">6.083M</div>
<div class="lgv" style="top:412px">6.083M</div>
<div class="lgv" style="top:423.3px">3.034M</div>
<div class="lgv" style="top:434.6px">0.824M</div>
</body></html>
